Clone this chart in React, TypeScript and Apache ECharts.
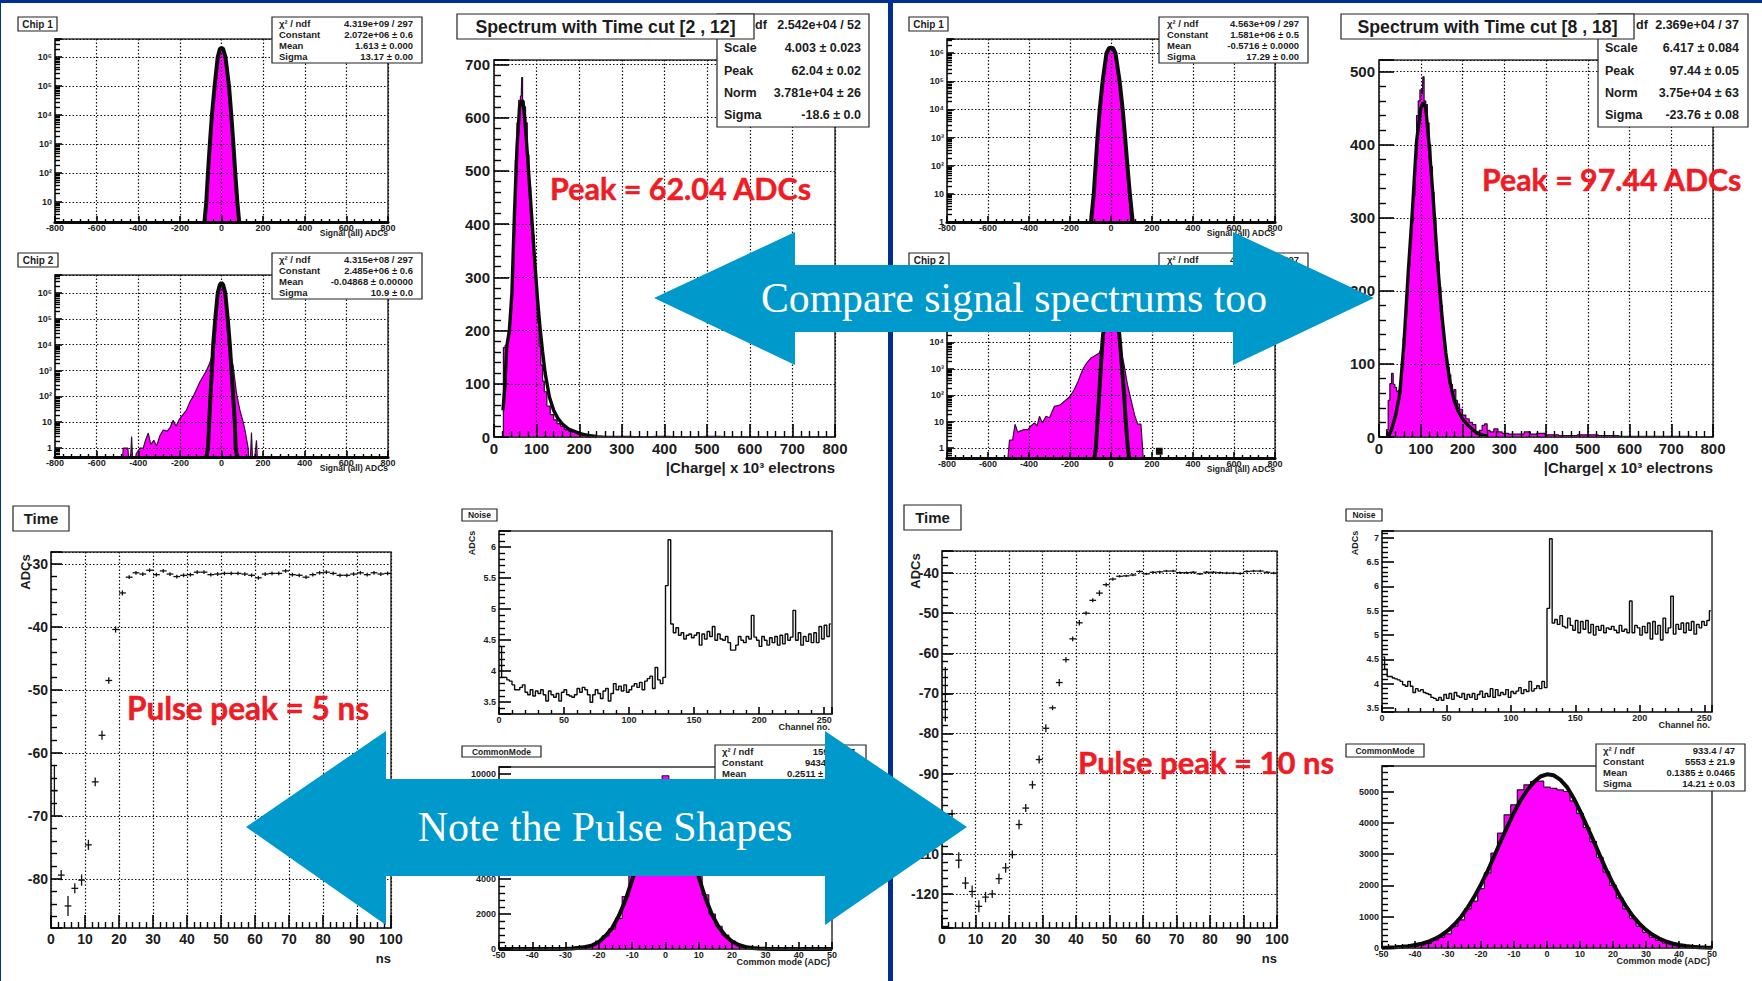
import React, { useEffect, useRef } from "react";
import * as echarts from "echarts";

// ---------- data ----------
const chip1LeftHist = [[-85,0.5],[-80,2.5],[-72,10],[-64,100],[-56,1000],[-45,10000],[-32,100000],[-18,1000000],[-8,1900000],[0,2100000],[8,1900000],[18,1000000],[37,100000],[45,10000],[56,1000],[64,100],[75,10],[85,2.5],[90,0.5]];
const chip1LeftFit = [[-82,2],[-73,10],[-65,100],[-56,1000],[-46,10000],[-33,100000],[-18,1000000],[-8,1900000],[0,2070000],[8,1900000],[19,1000000],[36,100000],[47,10000],[57,1000],[66,100],[76,10],[85,2]];
const chip2LeftHist = [[-480,0.1],[-472,1],[-450,1],[-440,0.1],[-432,2.8],[-424,0.1],[-410,0.6],[-392,1],[-376,1],[-365,2],[-352,3.8],[-340,1.4],[-325,2],[-312,1.2],[-296,3],[-280,5],[-262,4.5],[-248,6],[-232,12],[-218,7],[-205,12],[-192,17],[-170,28],[-150,65],[-136,100],[-120,190],[-104,360],[-88,600],[-72,1000],[-56,2000],[-40,5000],[-32,12000],[-20,400000],[-10,1800000],[0,2400000],[10,1800000],[20,400000],[32,12000],[44,4000],[56,1500],[64,450],[72,130],[88,30],[104,10],[115,4],[128,1],[136,0.1],[144,4],[152,0.1],[168,2],[176,0.1]];
const chip2LeftFit = [[-72,0.45],[-65,1],[-59,10],[-53,100],[-46,1000],[-40,10000],[-30,100000],[-18,1000000],[-8,2100000],[0,2485000],[8,2100000],[18,1000000],[30,100000],[40,10000],[48,1000],[56,100],[64,10],[68,1],[75,0.45]];
const chip1RightHist = [[-100,0.5],[-91,1],[-84,10],[-75,100],[-66,1000],[-55,10000],[-41,100000],[-22,1000000],[-10,1500000],[0,1600000],[10,1500000],[22,1000000],[42,100000],[57,10000],[69,1000],[79,100],[88,10],[96,1],[104,0.5]];
const chip1RightFit = [[-98,1],[-84,10],[-75,100],[-66,1000],[-55,10000],[-41,100000],[-22,1000000],[-10,1500000],[0,1581000],[10,1500000],[22,1000000],[42,100000],[57,10000],[69,1000],[80,100],[92,10],[106,1]];
const chip2RightHist = [[-510,0.1],[-495,2],[-480,2],[-468,8],[-455,4],[-447,4.3],[-425,5],[-406,5],[-390,7],[-373,9],[-360,7],[-349,16],[-335,9],[-317,16],[-300,14],[-276,38],[-250,42],[-227,59],[-200,90],[-179,165],[-160,350],[-138,940],[-118,1700],[-97,2600],[-75,3300],[-57,4000],[-40,9000],[-25,200000],[-10,1500000],[0,1900000],[10,1500000],[25,200000],[40,20000],[55,3000],[65,1260],[80,260],[97,70],[115,18],[130,8],[146,8],[154,1],[162,0.1]];
const chip2RightFit = [[-81,0.42],[-74,1],[-66,10],[-58,100],[-50,1000],[-42,10000],[-30,100000],[-18,1000000],[-8,1700000],[0,1900000],[8,1700000],[18,1000000],[32,100000],[44,10000],[54,1000],[64,100],[72,10],[82,1],[89,0.42]];
const chip2RightBlob = [[219,0.75],[252,0.75]];

const spectrumLeftHist = [[20,0],[24,168],[28,172],[32,180],[36,195],[40,240],[44,320],[48,420],[52,520],[56,590],[60,632],[64,640],[66,675],[68,632],[72,620],[76,590],[80,530],[84,470],[88,420],[92,380],[96,320],[100,270],[104,215],[108,170],[112,135],[116,105],[120,85],[128,58],[136,42],[144,32],[152,25],[160,20],[170,14],[180,11],[190,9],[200,6],[210,4],[220,2],[240,2],[260,1],[300,1],[340,0.5],[380,1],[440,0],[500,1],[560,0],[800,0]];
const spectrumLeftFit = [[21,50],[25,90],[30,170],[36,200],[42,270],[48,420],[54,545],[60,620],[64,630],[68,630],[72,600],[78,535],[84,465],[90,395],[96,325],[102,260],[108,205],[114,160],[120,120],[130,75],[140,50],[150,35],[160,25],[175,15],[190,10],[205,6],[220,3],[240,1]];
const spectrumRightHist = [[16,0],[20,10],[24,50],[28,73],[32,87],[36,72],[40,68],[44,62],[48,64],[52,75],[56,100],[60,135],[64,165],[68,195],[72,235],[76,265],[80,295],[84,330],[88,380],[92,440],[96,460],[100,475],[104,470],[106,493],[110,460],[114,455],[118,430],[122,400],[126,370],[130,335],[134,300],[138,265],[142,240],[146,205],[150,180],[154,150],[158,125],[162,110],[166,95],[170,85],[174,72],[178,62],[182,65],[186,50],[190,45],[196,38],[204,30],[212,25],[220,20],[228,17],[236,7],[244,9],[250,16],[256,18],[262,9],[270,7],[280,11],[290,7],[300,5],[320,4],[340,4],[355,7],[370,4],[385,5],[410,3],[450,2],[500,3],[550,2],[600,1],[700,1],[800,0]];
const spectrumRightFit = [[22,0],[30,10],[40,30],[50,60],[60,130],[70,225],[80,310],[90,405],[100,450],[106,458],[112,450],[120,400],[130,325],[140,240],[150,170],[160,115],[170,75],[180,50],[190,35],[200,25],[215,15],[235,5],[260,1]];

const timeLeftX = [1,3,5,7,9,11,13,15,17,19,21,23,25,27,29,31,33,35,37,39,41,43,45,47,49,51,53,55,57,59,61,63,65,67,69,71,73,75,77,79,81,83,85,87,89,91,93,95,97,99];
const timeLeftY = [-66,-79.4,-84.3,-81.5,-80.2,-74.6,-64.6,-57.2,-48.5,-40.4,-34.6,-32.1,-31.4,-31.6,-31.0,-31.7,-31.1,-31.6,-32.0,-31.8,-31.7,-31.3,-31.3,-31.7,-31.6,-31.5,-31.5,-31.5,-31.6,-31.8,-32.2,-31.6,-31.5,-31.5,-31.1,-31.7,-31.8,-32.1,-31.7,-31.4,-31.3,-31.5,-31.8,-31.8,-31.6,-31.4,-31.7,-31.4,-31.6,-31.5];
const timeLeftErr = [4.1,0.8,1.6,0.8,0.9,0.8,0.7,0.7,0.5,0.5,0.4,0.3,0.3,0.3,0.3,0.3,0.3,0.3,0.3,0.3,0.3,0.3,0.3,0.3,0.3,0.3,0.3,0.3,0.3,0.3,0.3,0.3,0.3,0.3,0.3,0.3,0.3,0.3,0.3,0.3,0.3,0.3,0.3,0.3,0.3,0.3,0.3,0.3,0.3,0.3];
const timeRightX = timeLeftX;
const timeRightY = [-70.2,-100,-111.6,-117.3,-119.4,-123.1,-120.8,-120,-116.2,-113.5,-110.2,-102.7,-98.6,-92.8,-86.5,-78.7,-73.6,-67.3,-61.6,-56.4,-52.4,-50,-46.8,-45,-42.9,-41.5,-40.8,-40.7,-40.5,-39.6,-40.2,-39.8,-39.7,-39.5,-39.5,-39.9,-39.9,-39.8,-40.2,-39.8,-39.8,-39.9,-40,-40,-40.1,-39.6,-39.5,-39.5,-39.8,-40];
const timeRightErr = [6.8,1,2,1.5,1.5,1.5,1.3,1,1.3,1.2,1,1.2,1,1,1,1,0.6,0.9,0.7,0.6,0.7,0.5,0.5,0.7,0.5,0.4,0.3,0.3,0.3,0.3,0.3,0.3,0.3,0.3,0.3,0.3,0.3,0.3,0.3,0.3,0.3,0.3,0.3,0.3,0.3,0.3,0.3,0.3,0.3,0.3];

const noiseLeftLow = [4.40,3.90,3.90,3.86,3.84,3.78,3.70,3.70,3.74,3.78,3.66,3.62,3.70,3.60,3.68,3.64,3.70,3.62,3.52,3.68,3.62,3.58,3.64,3.52,3.66,3.70,3.62,3.60,3.58,3.62,3.72,3.66,3.74,3.70,3.62,3.50,3.62,3.70,3.64,3.56,3.68,3.72,3.52,3.64,3.80,3.70,3.76,3.68,3.78,3.66,3.70,3.76,3.80,3.74,3.82,3.70,3.84,3.88,3.92,3.72,4.06,3.86,3.80,3.90];
const noiseLeftHigh = [5.38,6.12,4.76,4.62,4.70,4.58,4.62,4.52,4.58,4.60,4.54,4.58,4.62,4.42,4.60,4.52,4.64,4.56,4.72,4.50,4.60,4.52,4.50,4.56,4.46,4.34,4.34,4.42,4.56,4.50,4.46,4.56,4.52,4.90,4.55,4.50,4.40,4.56,4.50,4.42,4.54,4.46,4.56,4.42,4.58,4.44,4.60,4.50,4.55,4.98,4.50,4.62,4.42,4.56,4.48,4.60,4.46,4.62,4.46,4.72,4.52,4.74,4.56,4.76];
const noiseRightLow = [4.55,4.30,4.15,4.15,4.12,4.10,4.08,4.05,3.98,3.95,4.05,3.95,3.82,3.90,3.85,3.88,3.82,3.80,3.78,3.72,3.70,3.66,3.72,3.66,3.78,3.70,3.80,3.68,3.82,3.75,3.72,3.80,3.68,3.78,3.72,3.80,3.68,3.78,3.85,3.72,3.80,3.74,3.90,3.72,3.88,3.76,3.82,3.78,3.88,3.72,3.84,3.80,3.85,3.92,3.80,3.88,3.84,4.05,3.85,3.90,3.96,3.90,4.05,3.92];
const noiseRightHigh = [5.55,6.98,5.25,5.32,5.22,5.40,5.18,5.15,5.35,5.20,5.10,5.30,5.05,5.28,5.12,5.30,5.05,5.22,5.00,5.18,5.10,5.20,5.05,5.15,5.12,5.18,5.10,5.05,5.20,5.08,5.12,5.05,5.70,5.05,5.20,5.15,5.00,5.18,5.05,5.25,4.92,5.28,5.02,5.20,4.90,5.35,5.05,5.15,5.80,5.02,5.22,5.12,5.25,5.05,5.25,5.10,5.28,5.02,5.22,5.15,5.28,5.20,5.30,5.50];

const commonBins = [-50,-48,-46,-44,-42,-40,-38,-36,-34,-32,-30,-28,-26,-24,-22,-20,-18,-16,-14,-12,-10,-8,-6,-4,-2,0,2,4,6,8,10,12,14,16,18,20,22,24,26,28,30,32,34,36,38,40,42,44,46,48,50];
const commonLeftHist = [0,0,0,0,0,0,0,0,2,5,10,30,60,100,200,450,750,1150,1750,3000,4200,5800,7300,8700,9500,9900,9400,8500,7200,5800,4300,3100,2000,1300,800,450,250,130,60,30,15,6,3,0,0,0,0,0,0,0,0];
const commonLeftFit = [0,0,0,0,0,0,0,0,1,4,15,30,70,120,210,400,760,1200,1900,2800,3950,5200,6600,8000,9000,9434,9100,8200,6900,5500,4100,2900,1950,1250,760,430,230,120,60,30,15,5,2,0,0,0,0,0,0,0,0];
const commonRightHist = [5,8,12,20,30,50,90,150,250,350,450,700,900,1250,1500,1900,2400,3030,3670,4255,4574,5053,5213,5319,5330,5138,5100,5050,5000,4700,4300,3850,3400,2900,2430,2000,1600,1250,950,700,500,350,240,160,110,70,40,22,12,6,2];
const commonRightFit = [8,15,25,40,60,95,140,200,290,410,560,760,1000,1300,1640,2030,2460,2930,3420,3880,4330,4720,5040,5300,5480,5550,5520,5380,5150,4800,4380,3920,3450,2960,2490,2060,1670,1320,1020,780,580,420,300,210,145,100,65,40,25,15,8];

const chipTicks: Record<string, string> = { "0": "1", "1": "10", "2": "10\u00b2", "3": "10\u00b3", "4": "10\u2074", "5": "10\u2075", "6": "10\u2076" };

const statNames4 = ["\u03c7\u00b2 / ndf", "Constant", "Mean", "Sigma"];
const statsChip1L = ["4.319e+09 / 297", "2.072e+06 \u00b1 0.6", "1.613 \u00b1 0.000", "13.17 \u00b1 0.00"];
const statsChip2L = ["4.315e+08 / 297", "2.485e+06 \u00b1 0.6", "-0.04868 \u00b1 0.00000", "10.9 \u00b1 0.0"];
const statsChip1R = ["4.563e+09 / 297", "1.581e+06 \u00b1 0.5", "-0.5716 \u00b1 0.0000", "17.29 \u00b1 0.00"];
const statsChip2R = ["4.303e+08 / 297", "1.9e+06 \u00b1 0.5", "-0.3 \u00b1 0.0", "14.2 \u00b1 0.0"];
const statsCommonL = ["159.9 / 47", "9434 \u00b1 33.7", "0.2511 \u00b1 0.0262", "8.12 \u00b1 0.02"];
const statsCommonR = ["933.4 / 47", "5553 \u00b1 21.9", "0.1385 \u00b1 0.0465", "14.21 \u00b1 0.03"];
const statNames5 = ["df", "Scale", "Peak", "Norm", "Sigma"];
const statsSpecL = ["2.542e+04 / 52", "4.003 \u00b1 0.023", "62.04 \u00b1 0.02", "3.781e+04 \u00b1 26", "-18.6 \u00b1 0.0"];
const statsSpecR = ["2.369e+04 / 37", "6.417 \u00b1 0.084", "97.44 \u00b1 0.05", "3.75e+04 \u00b1 63", "-23.76 \u00b1 0.08"];

// ---------- builders ----------
const FONT = "Liberation Sans";
const INK = "#1c1c1c";
const MAGENTA = "#ff00ff";

type Box = { l: number; t: number; r: number; b: number };
const grids: any[] = [];
const xAxes: any[] = [];
const yAxes: any[] = [];
const series: any[] = [];
const graphics: any[] = [];

function axisCommon(idx: number, o: any) {
  return {
    gridIndex: idx,
    min: o.min,
    max: o.max,
    type: o.log ? "log" : "value",
    z: 6,
    ...(o.log ? { logBase: 10, splitNumber: 7 } : { minInterval: o.step, maxInterval: o.step, splitNumber: Math.round((o.max - o.min) / o.step) }),
    axisLine: { show: true, onZero: false, lineStyle: { color: o.thick ? "#0a0a0a" : "#333", width: o.thick ? 3.2 : 1.5 } },
    axisTick: { show: true, inside: true, length: o.tick, lineStyle: { color: "#000", width: 1.6 } },
    minorTick: { show: true, splitNumber: o.log ? 10 : o.minor, length: o.minorLen, lineStyle: { color: "#000", width: 1.4 } },
    splitLine: { show: !!o.split, lineStyle: { color: "#111", type: [1.5, 2], width: 1.2 } },
    minorSplitLine: { show: false },
    axisLabel: {
      show: true,
      hideOverlap: false,
      showMinLabel: true,
      showMaxLabel: true,
      margin: o.margin,
      color: INK,
      fontFamily: FONT,
      fontWeight: "bold",
      fontSize: o.fs,
      formatter: o.log
        ? (v: number) => {
            const p = Math.log10(v);
            return Math.abs(p - Math.round(p)) < 1e-6 ? chipTicks[String(Math.round(p))] || "" : "";
          }
        : (v: number) => {
            const k = v / o.step;
            return Math.abs(k - Math.round(k)) < 1e-6 ? String(+v.toFixed(3)) : "";
          },
    },
  };
}

function panel(b: Box, xo: any, yo: any) {
  const idx = grids.length;
  grids.push({ left: b.l, top: b.t, width: b.r - b.l, height: b.b - b.t, show: true, borderColor: "#333", borderWidth: 1.5, containLabel: false });
  xAxes.push({ ...axisCommon(idx, xo) });
  yAxes.push({ ...axisCommon(idx, yo) });
  if (xo.name) {
    graphics.push({ type: "text", x: b.r + (xo.nameDx || 0), y: b.b + xo.namePad, z: 8, style: { text: xo.name, fill: INK, fontFamily: FONT, fontWeight: "bold", fontSize: xo.nameFs, align: "right", verticalAlign: "middle" } });
  }
  if (yo.name) {
    graphics.push({ type: "text", x: b.l - yo.namePad, y: b.t + yo.nameDy, rotation: Math.PI / 2, z: 8, style: { text: yo.name, fill: INK, fontFamily: FONT, fontWeight: "bold", fontSize: yo.nameFs, align: "center", verticalAlign: "middle" } });
  }
  return idx;
}

function hist(idx: number, data: number[][], step: any = "middle", lineColor = "#3a0a3a") {
  series.push({ type: "line", xAxisIndex: idx, yAxisIndex: idx, data, step, showSymbol: false, silent: true, z: 3, lineStyle: { color: lineColor, width: 1.2 }, areaStyle: { color: MAGENTA, opacity: 1, origin: "start" } });
}
function fit(idx: number, data: number[][], width = 4) {
  series.push({ type: "line", xAxisIndex: idx, yAxisIndex: idx, data, showSymbol: false, silent: true, z: 4, lineStyle: { color: "#0b0b0b", width } });
}
function noise(idx: number, low: number[], high: number[]) {
  const data = [...low, ...high].map((v, i) => [i * 2 + 1, v]);
  series.push({ type: "line", xAxisIndex: idx, yAxisIndex: idx, data, step: "middle", showSymbol: false, silent: true, z: 3, lineStyle: { color: "#0b0b0b", width: 1.4 } });
}
function crosses(idx: number, xs: number[], ys: number[], errs: number[]) {
  series.push({
    type: "custom",
    xAxisIndex: idx,
    yAxisIndex: idx,
    silent: true,
    z: 4,
    encode: { x: 0, y: 1 },
    data: xs.map((x, i) => [x, ys[i], errs[i]]),
    renderItem: (_p: any, api: any) => {
      const x = api.value(0), y = api.value(1), e = api.value(2);
      const a = api.coord([x - 1, y]), c = api.coord([x + 1, y]), t = api.coord([x, y + e]), d = api.coord([x, y - e]);
      const st = { stroke: "#111", lineWidth: 1.3, fill: "none" };
      return {
        type: "group",
        children: [
          { type: "line", shape: { x1: a[0], y1: a[1], x2: c[0], y2: c[1] }, style: st },
          { type: "line", shape: { x1: t[0], y1: t[1], x2: d[0], y2: d[1] }, style: st },
        ],
      };
    },
  });
}

function titleBox(l: number, t: number, r: number, b: number, label: string, fs: number) {
  graphics.push({ type: "rect", shape: { x: l, y: t, width: r - l, height: b - t }, style: { fill: "#fff", stroke: "#222", lineWidth: 1.2 }, z: 21 });
  graphics.push({ type: "text", x: (l + r) / 2, y: (t + b) / 2, z: 22, style: { text: label, fill: INK, fontFamily: FONT, fontWeight: "bold", fontSize: fs, align: "center", verticalAlign: "middle" } });
}
function statBox(l: number, t: number, r: number, b: number, names: string[], vals: string[], rows: number[], fs: number, nameX: number, valX: number) {
  graphics.push({ type: "rect", shape: { x: l, y: t, width: r - l, height: b - t }, style: { fill: "#fff", stroke: "#222", lineWidth: 1.2 }, z: 19 });
  names.forEach((n, i) => {
    graphics.push({ type: "text", x: nameX, y: rows[i], z: 20, style: { text: n, fill: INK, fontFamily: FONT, fontWeight: "bold", fontSize: fs, align: "left", verticalAlign: "middle" } });
    graphics.push({ type: "text", x: valX, y: rows[i], z: 20, style: { text: vals[i], fill: INK, fontFamily: FONT, fontWeight: "bold", fontSize: fs, align: "right", verticalAlign: "middle" } });
  });
}
function redText(x: number, y: number, label: string, fs: number) {
  graphics.push({ type: "text", x, y, z: 30, style: { text: label, fill: "#ee1c25", stroke: "#ee1c25", lineWidth: 0.5, fontFamily: "Lato", fontWeight: "bold", fontSize: fs, align: "left", verticalAlign: "middle" } });
}
function arrow(points: number[][], label: string, cx: number, cy: number, fs: number) {
  graphics.push({ type: "polygon", shape: { points }, style: { fill: "#0099cc" }, z: 40 });
  graphics.push({ type: "text", x: cx, y: cy, z: 41, style: { text: label, fill: "#fff", fontFamily: "Liberation Serif", fontSize: fs, align: "center", verticalAlign: "middle" } });
}

function build() {
  const chipX = () => ({ min: -800, max: 800, step: 200, tick: 6, minor: 5, minorLen: 3, fs: 9, margin: 1, split: true, thick: true, name: "Signal (all) ADCs", namePad: 11, nameFs: 8.5 });
  const chipY = (min: number, max: number) => ({ log: true, min, max, tick: 7, minorLen: 5, fs: 9, margin: 3, split: true });
  const specX = { min: 0, max: 800, step: 100, tick: 13, minor: 5, minorLen: 6, fs: 15, margin: 4, split: true, name: "|Charge| x 10\u00b3 electrons", namePad: 30, nameFs: 15 };
  const timeX = { min: 0, max: 100, step: 10, tick: 13, minor: 5, minorLen: 6, fs: 14, margin: 4, split: true, name: "ns", namePad: 30, nameFs: 13 };
  const noiseX = { min: 0, max: 256, step: 50, tick: 7, minor: 5, minorLen: 4, fs: 9, margin: 1, name: "Channel no.", namePad: 13, nameFs: 9, nameDx: -2 };
  const commonX = { min: -50, max: 50, step: 10, tick: 7, minor: 5, minorLen: 4, fs: 9, margin: 1, name: "Common mode (ADC)", namePad: 13, nameFs: 9, nameDx: -2 };

  // Chip 1 / Chip 2 (left)
  let p = panel({ l: 55, t: 39, r: 388, b: 222 }, chipX(), chipY(2, 4200000));
  hist(p, chip1LeftHist, false); fit(p, chip1LeftFit);
  p = panel({ l: 55, t: 275, r: 388, b: 457 }, chipX(), chipY(0.45, 5000000));
  hist(p, chip2LeftHist, false); fit(p, chip2LeftFit);
  // Spectrum (left)
  p = panel({ l: 494, t: 60, r: 835, b: 437 }, specX, { min: 0, max: 708, step: 100, tick: 15, minor: 5, minorLen: 7, fs: 15, margin: 4, split: true });
  hist(p, spectrumLeftHist, "middle", "#2a0a2a"); fit(p, spectrumLeftFit, 3.4);
  // Time (left)
  p = panel({ l: 51, t: 552, r: 391, b: 928 }, timeX, { min: -87.8, max: -28.1, step: 10, tick: 11, minor: 5, minorLen: 6, fs: 14, margin: 3, split: true, name: "ADCs", namePad: 26, nameDy: 20, nameFs: 13 });
  crosses(p, timeLeftX, timeLeftY, timeLeftErr);
  // Noise (left)
  p = panel({ l: 499, t: 531, r: 832, b: 714 }, noiseX, { min: 3.31, max: 6.26, step: 0.5, tick: 12, minor: 5, minorLen: 6, fs: 9, margin: 3, name: "ADCs", namePad: 27, nameDy: 12, nameFs: 9 });
  noise(p, noiseLeftLow, noiseLeftHigh);
  // CommonMode (left)
  p = panel({ l: 499, t: 767, r: 832, b: 949 }, commonX, { min: 0, max: 10400, step: 2000, tick: 12, minor: 5, minorLen: 6, fs: 9, margin: 3 });
  hist(p, commonBins.map((x, i) => [x, commonLeftHist[i]])); fit(p, commonBins.map((x, i) => [x, commonLeftFit[i]]));

  // Chip 1 / Chip 2 (right)
  p = panel({ l: 947, t: 39, r: 1275, b: 222 }, chipX(), chipY(1, 3200000));
  hist(p, chip1RightHist, false); fit(p, chip1RightFit);
  p = panel({ l: 947, t: 275, r: 1275, b: 458 }, chipX(), chipY(0.42, 3600000));
  hist(p, chip2RightHist, false); fit(p, chip2RightFit); fit(p, chip2RightBlob, 7);
  // Spectrum (right)
  p = panel({ l: 1379, t: 60, r: 1713, b: 437 }, specX, { min: 0, max: 516, step: 100, tick: 15, minor: 5, minorLen: 7, fs: 15, margin: 4, split: true });
  hist(p, spectrumRightHist, "middle", "#2a0a2a"); fit(p, spectrumRightFit, 3.4);
  // Time (right)
  p = panel({ l: 942, t: 551, r: 1277, b: 928 }, timeX, { min: -128.5, max: -34.5, step: 10, tick: 11, minor: 5, minorLen: 6, fs: 14, margin: 3, split: true, name: "ADCs", namePad: 27, nameDy: 20, nameFs: 13 });
  crosses(p, timeRightX, timeRightY, timeRightErr);
  // Noise (right)
  p = panel({ l: 1382, t: 531, r: 1712, b: 712 }, noiseX, { min: 3.42, max: 7.14, step: 0.5, tick: 12, minor: 5, minorLen: 6, fs: 9, margin: 3, name: "ADCs", namePad: 27, nameDy: 12, nameFs: 9 });
  noise(p, noiseRightLow, noiseRightHigh);
  // CommonMode (right)
  p = panel({ l: 1382, t: 766, r: 1712, b: 948 }, commonX, { min: 0, max: 5815, step: 1000, tick: 12, minor: 5, minorLen: 6, fs: 9, margin: 3 });
  hist(p, commonBins.map((x, i) => [x, commonRightHist[i]]), "middle", "#2a0a2a"); fit(p, commonBins.map((x, i) => [x, commonRightFit[i]]));

  // frame
  const frame = "#00308f";
  [[0, 0, 1762, 3], [0, 0, 1, 981], [888, 0, 5, 981]].forEach(([x, y, width, height]) => {
    graphics.push({ type: "rect", shape: { x, y, width, height }, style: { fill: frame }, z: 35 });
  });

  // titles and stat boxes
  titleBox(18, 17, 57, 31, "Chip 1", 10);
  titleBox(18, 253, 58, 267, "Chip 2", 10);
  titleBox(457, 14, 754, 39, "Spectrum with Time cut [2 , 12]", 17.7);
  titleBox(13, 506, 69, 531, "Time", 15);
  titleBox(462, 509, 497, 521, "Noise", 8.5);
  titleBox(462, 746, 541, 757, "CommonMode", 8.5);
  titleBox(909, 17, 948, 31, "Chip 1", 10);
  titleBox(909, 253, 949, 267, "Chip 2", 10);
  titleBox(1341, 14, 1634, 39, "Spectrum with Time cut [8 , 18]", 17.7);
  titleBox(904, 505, 961, 530, "Time", 15);
  titleBox(1346, 509, 1382, 521, "Noise", 8.5);
  titleBox(1346, 744, 1424, 757, "CommonMode", 8.5);

  const chipRows = (t: number) => [t + 6, t + 17, t + 28, t + 39];
  statBox(272, 17, 422, 63, statNames4, statsChip1L, chipRows(17), 9.5, 279, 413);
  statBox(272, 253, 422, 299, statNames4, statsChip2L, chipRows(253), 9.5, 279, 413);
  statBox(1159, 17, 1308, 63, statNames4, statsChip1R, chipRows(17), 9.5, 1167, 1299);
  statBox(1159, 253, 1308, 299, statNames4, statsChip2R, chipRows(253), 9.5, 1167, 1299);
  statBox(715, 745, 866, 791, statNames4, statsCommonL, chipRows(745), 9.5, 722, 855);
  statBox(1596, 744, 1745, 791, statNames4, statsCommonR, chipRows(744), 9.5, 1603, 1735);
  const specRows = [25, 48, 71, 93, 115];
  statBox(717, 14, 869, 127, statNames5, statsSpecL, specRows, 12.5, 724, 861);
  statBox(1598, 14, 1748, 127, statNames5, statsSpecR, specRows, 12.5, 1605, 1739);
  graphics.forEach((g) => {
    if (g.type === "text" && g.style.text === "df") g.x = g.x < 1000 ? 755 : 1636;
  });

  redText(550, 188, "Peak = 62.04 ADCs", 30.5);
  redText(1482, 179, "Peak = 97.44 ADCs", 30.3);
  redText(127, 708, "Pulse peak = 5 ns", 31.5);
  redText(1078, 762, "Pulse peak = 10 ns", 31);

  arrow([[654, 298], [795, 232], [795, 265], [1233, 265], [1233, 232], [1374, 298], [1233, 365], [1233, 332], [795, 332], [795, 365]], "Compare signal spectrums too", 1014, 298, 41.7);
  arrow([[246, 827], [386, 731], [386, 779], [825, 779], [825, 731], [967, 827], [825, 925], [825, 876], [386, 876], [386, 925]], "Note the Pulse Shapes", 605, 827, 42);
}

export default function App() {
  const ref = useRef<HTMLDivElement>(null);
  useEffect(() => {
    document.body.style.margin = "0";
    grids.length = 0; xAxes.length = 0; yAxes.length = 0; series.length = 0; graphics.length = 0;
    build();
    const chart = echarts.init(ref.current!, null, { renderer: "svg" });
    chart.setOption({ animation: false, backgroundColor: "#fff", grid: grids, xAxis: xAxes, yAxis: yAxes, series, graphic: { elements: graphics } });
    return () => chart.dispose();
  }, []);
  return <div ref={ref} style={{ position: "fixed", left: 0, top: 0, width: 1762, height: 981 }} />;
}
